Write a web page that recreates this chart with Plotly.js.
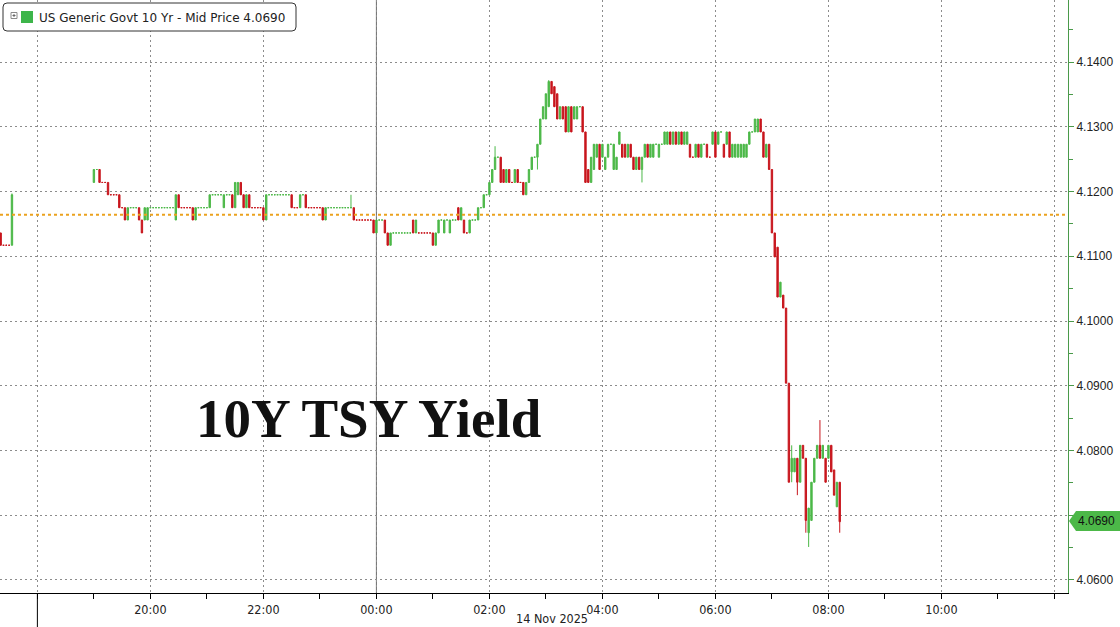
<!DOCTYPE html>
<html>
<head>
<meta charset="utf-8">
<script src="https://cdn.plot.ly/plotly-3.0.1.min.js"></script>
<style>html,body{margin:0;padding:0;background:#fff;}#chart{width:1120px;height:627px;}</style>
</head>
<body>
<div id="chart"></div>
<script>
// ---- DATA (3-minute candles, US Generic Govt 10 Yr yield) ----
const times = [
"17:18","17:21","17:24","17:27","17:30","17:33",
"19:00","19:03","19:06","19:09","19:12","19:15","19:18","19:21","19:24","19:27","19:30","19:33","19:36","19:39","19:42","19:45","19:48","19:51","19:54","19:57",
"20:00","20:03","20:06","20:09","20:12","20:15","20:18","20:21","20:24","20:27","20:30","20:33","20:36","20:39","20:42","20:45","20:48","20:51","20:54","20:57",
"21:00","21:03","21:06","21:09","21:12","21:15","21:18","21:21","21:24","21:27","21:30","21:33","21:36","21:39","21:42","21:45","21:48","21:51","21:54","21:57",
"22:00","22:03","22:06","22:09","22:12","22:15","22:18","22:21","22:24","22:27","22:30","22:33","22:36","22:39","22:42","22:45","22:48","22:51","22:54","22:57",
"23:00","23:03","23:06","23:09","23:12","23:15","23:18","23:21","23:24","23:27","23:30","23:33","23:36","23:39","23:42","23:45","23:48","23:51","23:54","23:57",
"00:00","00:03","00:06","00:09","00:12","00:15","00:18","00:21","00:24","00:27","00:30","00:33","00:36","00:39","00:42","00:45","00:48","00:51","00:54","00:57",
"01:00","01:03","01:06","01:09","01:12","01:15","01:18","01:21","01:24","01:27","01:30","01:33","01:36","01:39","01:42","01:45","01:48","01:51","01:54","01:57",
"02:00","02:03","02:06","02:09","02:12","02:15","02:18","02:21","02:24","02:27","02:30","02:33","02:36","02:39","02:42","02:45","02:48","02:51","02:54","02:57",
"03:00","03:03","03:06","03:09","03:12","03:15","03:18","03:21","03:24","03:27","03:30","03:33","03:36","03:39","03:42","03:45","03:48","03:51","03:54","03:57",
"04:00","04:03","04:06","04:09","04:12","04:15","04:18","04:21","04:24","04:27","04:30","04:33","04:36","04:39","04:42","04:45","04:48","04:51","04:54","04:57",
"05:00","05:03","05:06","05:09","05:12","05:15","05:18","05:21","05:24","05:27","05:30","05:33","05:36","05:39","05:42","05:45","05:48","05:51","05:54","05:57",
"06:00","06:03","06:06","06:09","06:12","06:15","06:18","06:21","06:24","06:27","06:30","06:33","06:36","06:39","06:42","06:45","06:48","06:51","06:54","06:57",
"07:00","07:03","07:06","07:09","07:12","07:15","07:18","07:21","07:24","07:27","07:30","07:33","07:36","07:39","07:42","07:45","07:48","07:51","07:54","07:57",
"08:00","08:03","08:06","08:09","08:12"
];
const openVals = [
4.1156,4.1136,4.1117,4.1117,4.1117,4.1117,
4.1214,4.1234,4.1234,4.1214,4.1214,4.1214,4.1195,4.1195,4.1195,4.1195,4.1175,4.1175,4.1156,4.1175,4.1175,4.1175,4.1175,4.1156,4.1156,4.1156,
4.1175,4.1175,4.1175,4.1175,4.1175,4.1175,4.1175,4.1175,4.1175,4.1156,4.1195,4.1175,4.1175,4.1175,4.1175,4.1175,4.1156,4.1175,4.1175,4.1175,
4.1175,4.1175,4.1195,4.1195,4.1195,4.1195,4.1175,4.1195,4.1195,4.1195,4.1175,4.1195,4.1214,4.1195,4.1175,4.1195,4.1175,4.1175,4.1175,4.1175,
4.1175,4.1156,4.1195,4.1195,4.1195,4.1195,4.1195,4.1195,4.1195,4.1195,4.1195,4.1175,4.1175,4.1175,4.1195,4.1195,4.1175,4.1175,4.1175,4.1175,
4.1175,4.1175,4.1156,4.1175,4.1175,4.1175,4.1175,4.1175,4.1175,4.1175,4.1175,4.1175,4.1175,4.1156,4.1156,4.1156,4.1156,4.1156,4.1156,4.1156,
4.1136,4.1156,4.1156,4.1156,4.1136,4.1117,4.1136,4.1136,4.1136,4.1136,4.1136,4.1136,4.1136,4.1156,4.1136,4.1136,4.1136,4.1136,4.1136,4.1136,
4.1136,4.1117,4.1136,4.1156,4.1136,4.1156,4.1136,4.1156,4.1156,4.1175,4.1156,4.1156,4.1136,4.1136,4.1156,4.1156,4.1156,4.1175,4.1175,4.1195,
4.1195,4.1214,4.1234,4.1253,4.1253,4.1234,4.1214,4.1234,4.1214,4.1214,4.1234,4.1214,4.1214,4.1195,4.1214,4.1234,4.1253,4.1253,4.1273,4.1312,
4.1312,4.1331,4.1370,4.1362,4.1351,4.1312,4.1331,4.1331,4.1292,4.1331,4.1312,4.1312,4.1331,4.1331,4.1292,4.1234,4.1214,4.1234,4.1253,4.1273,
4.1253,4.1234,4.1253,4.1273,4.1234,4.1234,4.1273,4.1273,4.1273,4.1253,4.1273,4.1253,4.1234,4.1253,4.1234,4.1253,4.1273,4.1253,4.1253,4.1273,
4.1253,4.1273,4.1273,4.1273,4.1292,4.1273,4.1292,4.1273,4.1292,4.1273,4.1273,4.1273,4.1253,4.1253,4.1273,4.1253,4.1273,4.1273,4.1253,4.1273,
4.1292,4.1273,4.1292,4.1273,4.1273,4.1292,4.1253,4.1253,4.1253,4.1253,4.1253,4.1253,4.1273,4.1292,4.1292,4.1292,4.1312,4.1292,4.1253,4.1273,
4.1234,4.1136,4.1114,4.1037,4.1040,4.1020,4.0904,4.0767,4.0767,4.0788,4.0751,4.0808,4.0788,4.0673,4.0692,4.0751,4.0788,4.0808,4.0788,4.0788,
4.0788,4.0808,4.0770,4.0713,4.0751
];
const highVals = [
4.1156,4.1136,4.1117,4.1117,4.1117,4.1197,
4.1234,4.1234,4.1234,4.1214,4.1214,4.1214,4.1195,4.1195,4.1195,4.1195,4.1175,4.1175,4.1175,4.1175,4.1175,4.1175,4.1175,4.1156,4.1175,4.1175,
4.1175,4.1175,4.1175,4.1175,4.1175,4.1175,4.1175,4.1175,4.1175,4.1195,4.1195,4.1175,4.1175,4.1175,4.1175,4.1175,4.1175,4.1175,4.1175,4.1175,
4.1175,4.1195,4.1195,4.1195,4.1195,4.1195,4.1195,4.1195,4.1195,4.1195,4.1214,4.1214,4.1214,4.1195,4.1195,4.1195,4.1175,4.1175,4.1175,4.1175,
4.1175,4.1195,4.1195,4.1195,4.1195,4.1195,4.1195,4.1195,4.1195,4.1195,4.1195,4.1175,4.1175,4.1195,4.1195,4.1195,4.1175,4.1175,4.1175,4.1175,
4.1175,4.1175,4.1175,4.1175,4.1175,4.1175,4.1175,4.1175,4.1175,4.1175,4.1175,4.1195,4.1175,4.1156,4.1156,4.1156,4.1156,4.1156,4.1156,4.1156,
4.1156,4.1156,4.1156,4.1156,4.1136,4.1136,4.1136,4.1136,4.1136,4.1136,4.1136,4.1136,4.1136,4.1156,4.1156,4.1136,4.1136,4.1136,4.1136,4.1136,
4.1136,4.1136,4.1156,4.1156,4.1156,4.1156,4.1156,4.1156,4.1156,4.1175,4.1175,4.1156,4.1136,4.1156,4.1156,4.1156,4.1175,4.1175,4.1195,4.1195,
4.1214,4.1234,4.1270,4.1253,4.1253,4.1234,4.1234,4.1234,4.1214,4.1234,4.1234,4.1214,4.1214,4.1214,4.1234,4.1253,4.1253,4.1273,4.1312,4.1331,
4.1351,4.1372,4.1370,4.1362,4.1351,4.1331,4.1331,4.1331,4.1331,4.1331,4.1331,4.1331,4.1331,4.1331,4.1292,4.1234,4.1253,4.1273,4.1273,4.1273,
4.1273,4.1253,4.1273,4.1273,4.1273,4.1253,4.1292,4.1273,4.1273,4.1273,4.1273,4.1253,4.1253,4.1253,4.1253,4.1273,4.1273,4.1273,4.1273,4.1273,
4.1273,4.1273,4.1292,4.1292,4.1292,4.1292,4.1292,4.1292,4.1292,4.1292,4.1292,4.1273,4.1253,4.1273,4.1273,4.1273,4.1273,4.1273,4.1253,4.1292,
4.1292,4.1292,4.1292,4.1273,4.1292,4.1292,4.1273,4.1273,4.1273,4.1273,4.1273,4.1273,4.1292,4.1292,4.1312,4.1312,4.1312,4.1292,4.1273,4.1273,
4.1234,4.1136,4.1114,4.1060,4.1040,4.1020,4.0904,4.0808,4.0788,4.0788,4.0808,4.0808,4.0788,4.0711,4.0751,4.0788,4.0808,4.0847,4.0808,4.0788,
4.0808,4.0808,4.0770,4.0751,4.0751
];
const lowVals = [
4.1136,4.1117,4.1117,4.1117,4.1117,4.1117,
4.1214,4.1234,4.1214,4.1214,4.1214,4.1195,4.1195,4.1195,4.1195,4.1175,4.1175,4.1156,4.1156,4.1175,4.1175,4.1175,4.1156,4.1136,4.1156,4.1156,
4.1175,4.1175,4.1175,4.1175,4.1175,4.1175,4.1175,4.1175,4.1175,4.1156,4.1175,4.1175,4.1175,4.1175,4.1175,4.1156,4.1156,4.1175,4.1175,4.1175,
4.1175,4.1175,4.1195,4.1195,4.1195,4.1195,4.1175,4.1195,4.1195,4.1175,4.1175,4.1195,4.1195,4.1175,4.1175,4.1175,4.1175,4.1175,4.1175,4.1175,
4.1156,4.1156,4.1195,4.1195,4.1195,4.1195,4.1195,4.1195,4.1195,4.1195,4.1175,4.1175,4.1175,4.1175,4.1195,4.1175,4.1175,4.1175,4.1175,4.1175,
4.1175,4.1156,4.1156,4.1175,4.1175,4.1175,4.1175,4.1175,4.1175,4.1175,4.1175,4.1175,4.1156,4.1156,4.1156,4.1156,4.1156,4.1156,4.1156,4.1136,
4.1136,4.1156,4.1156,4.1136,4.1117,4.1117,4.1136,4.1136,4.1136,4.1136,4.1136,4.1136,4.1136,4.1136,4.1136,4.1136,4.1136,4.1136,4.1136,4.1136,
4.1117,4.1117,4.1136,4.1156,4.1136,4.1156,4.1136,4.1156,4.1156,4.1156,4.1156,4.1136,4.1136,4.1136,4.1156,4.1156,4.1156,4.1175,4.1175,4.1195,
4.1195,4.1214,4.1234,4.1253,4.1214,4.1214,4.1214,4.1214,4.1214,4.1214,4.1214,4.1214,4.1195,4.1195,4.1214,4.1234,4.1253,4.1234,4.1273,4.1312,
4.1312,4.1331,4.1351,4.1331,4.1312,4.1312,4.1312,4.1292,4.1292,4.1292,4.1312,4.1312,4.1331,4.1292,4.1214,4.1214,4.1214,4.1234,4.1253,4.1234,
4.1253,4.1234,4.1253,4.1273,4.1234,4.1234,4.1273,4.1253,4.1253,4.1253,4.1253,4.1234,4.1234,4.1234,4.1214,4.1253,4.1253,4.1253,4.1253,4.1273,
4.1253,4.1273,4.1273,4.1273,4.1273,4.1273,4.1273,4.1273,4.1273,4.1273,4.1273,4.1253,4.1253,4.1253,4.1253,4.1253,4.1273,4.1253,4.1253,4.1273,
4.1253,4.1273,4.1292,4.1253,4.1273,4.1253,4.1253,4.1253,4.1253,4.1253,4.1253,4.1253,4.1273,4.1292,4.1292,4.1292,4.1292,4.1253,4.1253,4.1234,
4.1136,4.1099,4.1037,4.1037,4.1020,4.0904,4.0751,4.0751,4.0767,4.0731,4.0751,4.0788,4.0673,4.0651,4.0692,4.0751,4.0788,4.0788,4.0788,4.0751,
4.0788,4.0767,4.0731,4.0713,4.0673
];
const closeVals = [
4.1136,4.1117,4.1117,4.1117,4.1117,4.1195,
4.1234,4.1234,4.1214,4.1214,4.1214,4.1195,4.1195,4.1195,4.1195,4.1175,4.1175,4.1156,4.1175,4.1175,4.1175,4.1175,4.1156,4.1136,4.1175,4.1175,
4.1175,4.1175,4.1175,4.1175,4.1175,4.1175,4.1175,4.1175,4.1175,4.1195,4.1175,4.1175,4.1175,4.1175,4.1175,4.1156,4.1175,4.1175,4.1175,4.1175,
4.1175,4.1195,4.1195,4.1195,4.1195,4.1195,4.1195,4.1195,4.1195,4.1175,4.1214,4.1214,4.1195,4.1175,4.1195,4.1175,4.1175,4.1175,4.1175,4.1175,
4.1156,4.1195,4.1195,4.1195,4.1195,4.1195,4.1195,4.1195,4.1195,4.1195,4.1175,4.1175,4.1175,4.1195,4.1195,4.1175,4.1175,4.1175,4.1175,4.1175,
4.1175,4.1156,4.1175,4.1175,4.1175,4.1175,4.1175,4.1175,4.1175,4.1175,4.1175,4.1175,4.1156,4.1156,4.1156,4.1156,4.1156,4.1156,4.1156,4.1136,
4.1156,4.1156,4.1156,4.1136,4.1117,4.1136,4.1136,4.1136,4.1136,4.1136,4.1136,4.1136,4.1136,4.1136,4.1156,4.1136,4.1136,4.1136,4.1136,4.1136,
4.1117,4.1136,4.1156,4.1156,4.1156,4.1156,4.1156,4.1156,4.1156,4.1156,4.1175,4.1136,4.1136,4.1156,4.1156,4.1156,4.1175,4.1175,4.1195,4.1195,
4.1214,4.1234,4.1253,4.1253,4.1214,4.1214,4.1234,4.1214,4.1214,4.1234,4.1214,4.1214,4.1195,4.1214,4.1234,4.1253,4.1253,4.1273,4.1312,4.1331,
4.1351,4.1370,4.1351,4.1331,4.1312,4.1331,4.1312,4.1292,4.1331,4.1292,4.1331,4.1331,4.1331,4.1292,4.1214,4.1214,4.1253,4.1273,4.1273,4.1234,
4.1273,4.1253,4.1273,4.1273,4.1273,4.1253,4.1292,4.1253,4.1253,4.1273,4.1253,4.1234,4.1253,4.1234,4.1253,4.1273,4.1253,4.1273,4.1273,4.1273,
4.1273,4.1273,4.1292,4.1292,4.1273,4.1292,4.1273,4.1292,4.1273,4.1292,4.1292,4.1253,4.1253,4.1273,4.1253,4.1273,4.1273,4.1253,4.1253,4.1292,
4.1253,4.1292,4.1292,4.1253,4.1292,4.1253,4.1273,4.1273,4.1273,4.1273,4.1273,4.1273,4.1292,4.1292,4.1312,4.1312,4.1292,4.1253,4.1273,4.1234,
4.1136,4.1099,4.1037,4.1060,4.1020,4.0904,4.0751,4.0788,4.0788,4.0751,4.0808,4.0788,4.0692,4.0711,4.0751,4.0788,4.0808,4.0788,4.0808,4.0751,
4.0808,4.0767,4.0731,4.0751,4.0690
];
const yTicks = [4.06,4.07,4.08,4.09,4.10,4.11,4.12,4.13,4.14];
const yTickText = ["4.0600","","4.0800","4.0900","4.1000","4.1100","4.1200","4.1300","4.1400"];
const xTickVals = ["2025-11-13 18:00","2025-11-13 20:00","2025-11-13 22:00","2025-11-14 00:00","2025-11-14 02:00","2025-11-14 04:00","2025-11-14 06:00","2025-11-14 08:00","2025-11-14 10:00","2025-11-14 12:00"];
const xTickText = ["","20:00","22:00","00:00","02:00","04:00","06:00","08:00","10:00",""];
const prevClose = 4.1164;
const lastPrice = "4.0690";
const seriesName = "US Generic Govt 10 Yr - Mid Price " + lastPrice;
const chartTitle = "10Y TSY Yield";
const dateLabel = "14 Nov 2025";

// ---- build ----
const xDates = times.map(t => (parseInt(t.slice(0,2),10) >= 12 ? "2025-11-13 " : "2025-11-14 ") + t);

const W = 1068, H = 593; // plot area in px
const px = x => x / W;
const py = y => 1 - y / H;

const GREEN = '#4cb848', RED = '#c8161d';

const trace = {
  type: 'candlestick', x: xDates, open: openVals, high: highVals, low: lowVals, close: closeVals,
  increasing: {line: {color: GREEN, width: 1}, fillcolor: GREEN},
  decreasing: {line: {color: RED, width: 1}, fillcolor: RED},
  whiskerwidth: 0, hoverinfo: 'none', showlegend: false
};

function roundRect(x0, y0, x1, y1, r) {
  return `M ${px(x0+r)},${py(y0)} L ${px(x1-r)},${py(y0)} Q ${px(x1)},${py(y0)} ${px(x1)},${py(y0+r)} ` +
         `L ${px(x1)},${py(y1-r)} Q ${px(x1)},${py(y1)} ${px(x1-r)},${py(y1)} L ${px(x0+r)},${py(y1)} ` +
         `Q ${px(x0)},${py(y1)} ${px(x0)},${py(y1-r)} L ${px(x0)},${py(y0+r)} Q ${px(x0)},${py(y0)} ${px(x0+r)},${py(y0)} Z`;
}
const lastY = 521;
const arrowPath = `M ${px(1069)},${py(lastY)} L ${px(1076)},${py(lastY-10)} L ${px(1120)},${py(lastY-10)} L ${px(1120)},${py(lastY+10)} L ${px(1076)},${py(lastY+10)} Z`;

const gridCol = '#8c8c8c';
const layout = {
  width: 1120, height: 627,
  margin: {l: 0, r: 1120 - W, t: 0, b: 627 - H, pad: 0},
  paper_bgcolor: '#ffffff', plot_bgcolor: '#ffffff',
  showlegend: false,
  xaxis: {
    type: 'date', range: ['2025-11-13 17:20:18', '2025-11-14 12:14:24'],
    rangeslider: {visible: false},
    tickmode: 'array', tickvals: xTickVals, ticktext: xTickText,
    showgrid: true, gridcolor: gridCol, griddash: '2px,3px', gridwidth: 1,
    ticks: 'outside', ticklen: 5, tickcolor: '#000', tickwidth: 1,
    minor: {tickmode: 'linear', tick0: '2025-11-13 17:00', dtick: 3600000, ticks: 'outside', ticklen: 5, tickcolor: '#000', showgrid: false},
    showline: true, linecolor: '#000', linewidth: 1, zeroline: false,
    tickfont: {family: 'Liberation Sans Narrow, DejaVu Sans Condensed, Arial Narrow, sans-serif', size: 12.5, color: '#222'},
    fixedrange: true
  },
  yaxis: {
    side: 'right', range: [4.05799, 4.14958],
    tickmode: 'array', tickvals: yTicks, ticktext: yTickText,
    showgrid: true, gridcolor: gridCol, griddash: '2px,3px', gridwidth: 1,
    ticks: 'outside', ticklen: 5, tickcolor: '#4a9a4a', tickwidth: 1,
    minor: {tickmode: 'linear', tick0: 4.055, dtick: 0.01, ticks: 'outside', ticklen: 4, tickcolor: '#4a9a4a', showgrid: false},
    showline: true, linecolor: '#4a9a4a', linewidth: 1, zeroline: false,
    tickfont: {family: 'Liberation Sans, Arial, sans-serif', size: 12, color: '#222'},
    fixedrange: true
  },
  shapes: [
    {type: 'line', xref: 'x', yref: 'paper', x0: '2025-11-14 00:00', x1: '2025-11-14 00:00', y0: 0, y1: 1, line: {color: '#6a6a6a', width: 1}, layer: 'below'},
    {type: 'line', xref: 'x', yref: 'paper', x0: '2025-11-13 18:00', x1: '2025-11-13 18:00', y0: -(627 - H) / H, y1: 0, line: {color: '#000', width: 1}},
    {type: 'line', xref: 'paper', yref: 'y', x0: 0, x1: 1, y0: prevClose, y1: prevClose, line: {color: '#eba21f', width: 2, dash: 'dot'}, layer: 'above'},
    {type: 'path', xref: 'paper', yref: 'paper', path: roundRect(3, 3, 296, 31, 4), fillcolor: '#ffffff', line: {color: '#333', width: 1}},
    {type: 'rect', xref: 'paper', yref: 'paper', x0: px(21), x1: px(33), y0: py(11), y1: py(23), fillcolor: '#3db54a', line: {width: 0}},
    {type: 'rect', xref: 'paper', yref: 'paper', x0: px(11), x1: px(17), y0: py(12.5), y1: py(18.5), fillcolor: '#fff', line: {color: '#8a8a8a', width: 1}},
    {type: 'line', xref: 'paper', yref: 'paper', x0: px(12.5), x1: px(15.5), y0: py(15.5), y1: py(15.5), line: {color: '#666', width: 1}},
    {type: 'line', xref: 'paper', yref: 'paper', x0: px(14), x1: px(14), y0: py(14), y1: py(17), line: {color: '#666', width: 1}},
    {type: 'path', xref: 'paper', yref: 'paper', path: arrowPath, fillcolor: '#4cb848', line: {width: 0}}
  ],
  annotations: [
    {xref: 'paper', yref: 'paper', x: px(37), y: py(17.5), xanchor: 'left', yanchor: 'middle', showarrow: false,
     text: seriesName, font: {family: 'DejaVu Sans, Verdana, sans-serif', size: 12, color: '#222'}},
    {xref: 'paper', yref: 'paper', x: px(368), y: py(418), xanchor: 'center', yanchor: 'middle', showarrow: false,
     text: '<b>' + chartTitle + '</b>', font: {family: 'Liberation Serif, Times New Roman, serif', size: 55, color: '#111'}},
    {xref: 'paper', yref: 'paper', x: px(552), y: py(619), xanchor: 'center', yanchor: 'middle', showarrow: false,
     text: dateLabel, font: {family: 'Liberation Sans Narrow, DejaVu Sans Condensed, Arial Narrow, sans-serif', size: 12.5, color: '#222'}},
    {xref: 'paper', yref: 'paper', x: px(1096), y: py(lastY), xanchor: 'center', yanchor: 'middle', showarrow: false,
     text: lastPrice, font: {family: 'Liberation Sans, Arial, sans-serif', size: 12, color: '#111'}}
  ]
};

Plotly.newPlot('chart', [trace], layout, {displayModeBar: false, staticPlot: true});
</script>
</body>
</html>
